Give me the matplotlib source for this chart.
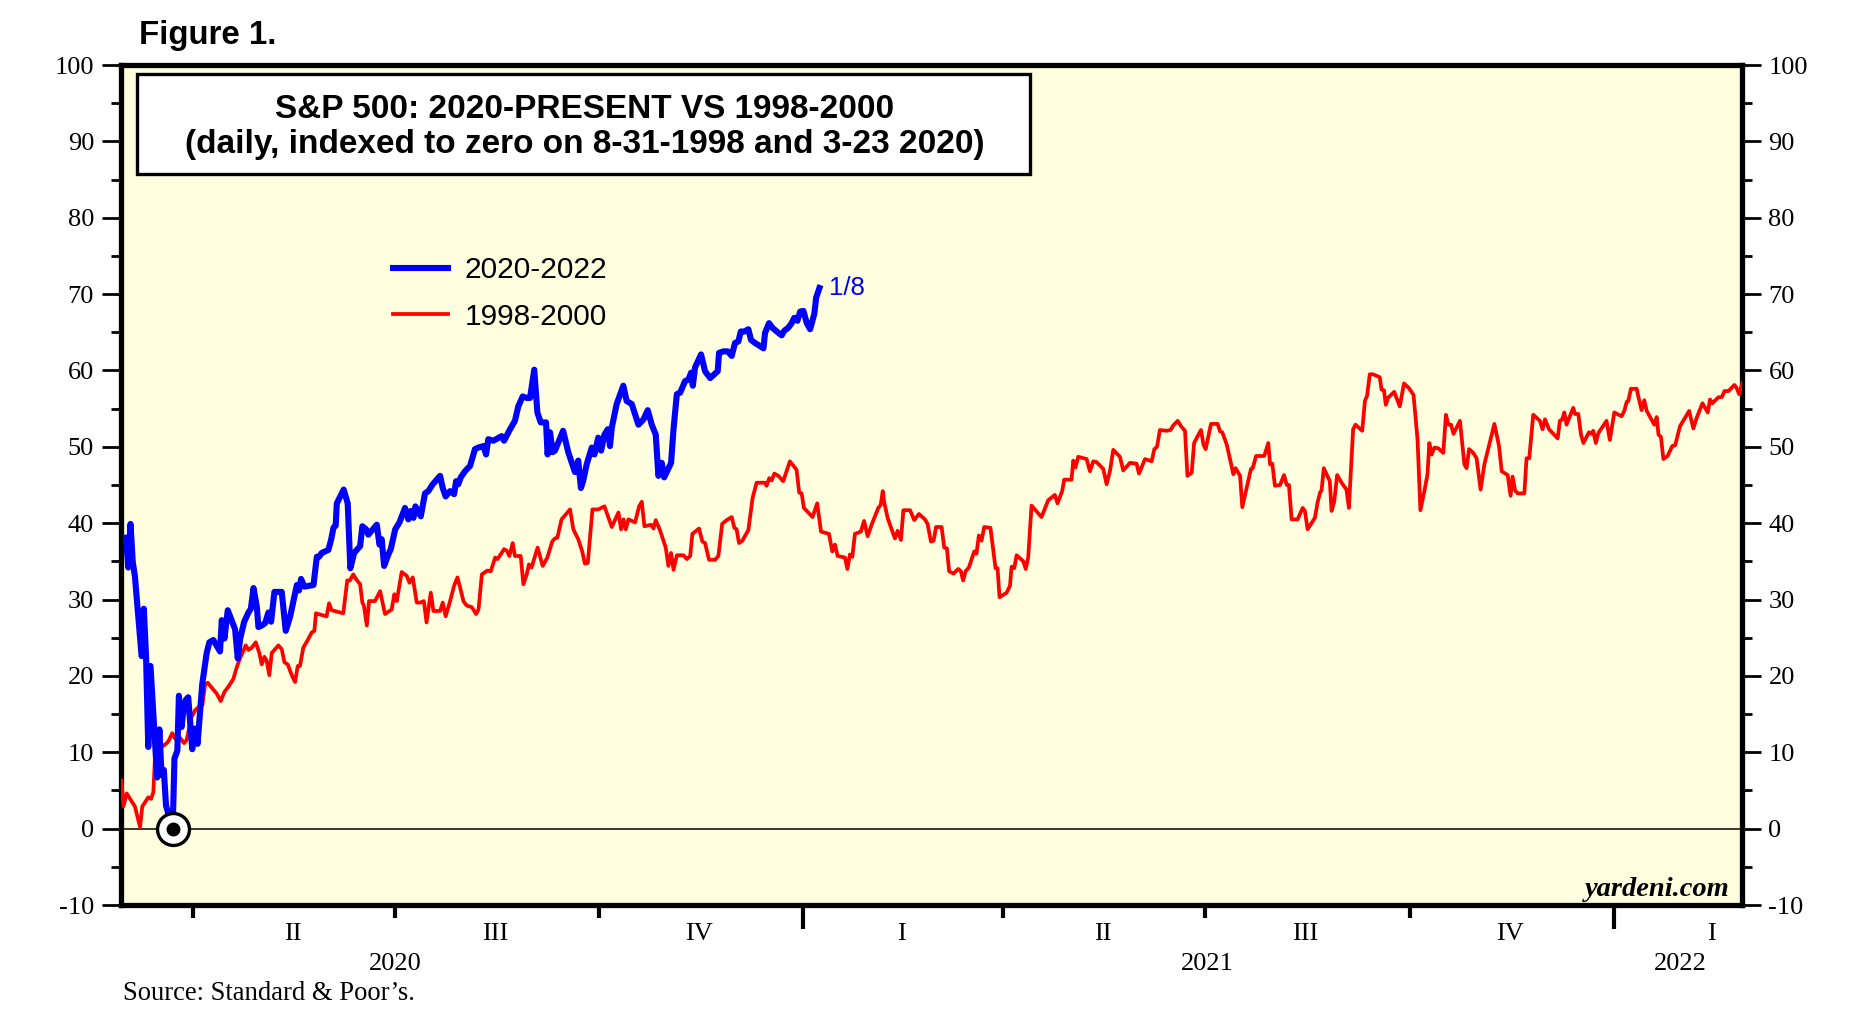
import datetime as dt
import numpy as np
import matplotlib
matplotlib.use("Agg")
import matplotlib.pyplot as plt
import matplotlib.dates as mdates
import matplotlib.transforms as mtransforms
from matplotlib.ticker import MultipleLocator, FixedLocator, NullFormatter
from matplotlib.patches import Rectangle

plt.rcParams["axes.unicode_minus"] = False

# ---------------- data (days after 2020-03-01, index value) ----------------
blue_day = [1, 2, 3, 4, 5, 8, 9, 10, 11, 12,
            15, 16, 17, 18, 19, 22, 22.8, 24.1, 24.8, 26.0,
            27.1, 28.0, 29.0, 30.8, 32.0, 33.2, 35.3, 37.3, 38.5, 40.3,
            43.3, 44.1, 45.3, 46.8, 50.1, 51.3, 52.4, 54.2, 56.1, 57.2,
            58.4, 59.9, 60.6, 62.1, 63.6, 65.1, 66.3, 67.8, 71.1, 72.9,
            74.9, 77.9, 78.9, 79.8, 81.3, 85.4, 86.9, 87.9, 89.1, 92.1,
            93.3, 94.4, 95.4, 95.9, 99.0, 100.8, 102.0, 103.7, 106.4, 107.4,
            109.1, 110.1, 113.9, 115.1, 116.1, 117.2, 119.1, 120.2, 122.2, 124.1,
            126.6, 128.1, 129.2, 130.4, 131.3, 133.7, 135.6, 137.1, 139.1, 142.4,
            143.6, 144.9, 146.9, 148.7, 149.6, 150.6, 151.7, 153.6, 155.9, 158.1,
            159.6, 161.9, 163.1, 164.1, 166.4, 170.1, 171.2, 173.9, 176.1, 177.6,
            179.6, 181.4, 182.9, 184.8, 186.2, 187.7, 190.1, 190.8, 191.9, 193.1,
            194.1, 197.8, 200.1, 201.6, 203.1, 204.6, 205.8, 206.8, 208.4, 210.7,
            211.9, 213.6, 214.9, 216.4, 217.9, 218.9, 219.7, 221.9, 224.9, 226.4,
            228.7, 231.7, 234.0, 235.9, 237.7, 239.5, 240.7, 242.2, 243.3, 246.4,
            247.5, 249.0, 250.5, 252.7, 254.2, 255.4, 256.2, 257.2, 259.9, 261.7,
            264.0, 267.4, 268.0, 270.0, 271.9, 273.7, 275.2, 276.7, 277.8, 279.4,
            281.2, 282.4, 284.2, 288.0, 288.7, 290.5, 292.0, 294.0, 296.2, 297.4,
            299.2, 300.7, 301.9, 303.3, 304.5, 306.0, 307.5, 309.0, 310.9, 311.7,
            313.2]
blue_val = [38.1, 34.2, 39.9, 35.0, 33.0, 22.6, 28.8, 22.6, 10.7, 21.3,
            6.7, 13.0, 7.0, 7.7, 3.0, 0.0, 9.2, 10.2, 17.4, 13.3,
            16.2, 16.9, 17.2, 10.4, 13.1, 11.1, 18.9, 23.0, 24.4, 24.7,
            23.2, 27.3, 24.9, 28.6, 26.1, 22.3, 24.9, 27.1, 28.3, 28.8,
            31.5, 29.0, 26.4, 26.6, 26.9, 28.3, 27.1, 31.0, 31.0, 25.9,
            27.8, 31.9, 31.2, 32.7, 31.7, 31.9, 35.6, 35.6, 36.1, 36.5,
            37.8, 39.4, 39.7, 42.6, 44.4, 42.6, 34.1, 36.1, 37.0, 39.6,
            39.2, 38.5, 39.8, 37.2, 37.9, 34.4, 35.9, 36.6, 39.2, 40.1,
            42.0, 40.5, 41.6, 40.7, 42.2, 40.9, 43.9, 44.2, 45.1, 46.2,
            44.6, 43.5, 44.2, 43.8, 45.5, 45.1, 46.0, 46.8, 47.5, 49.7,
            49.9, 50.1, 49.0, 51.0, 50.8, 51.4, 50.8, 52.3, 53.4, 55.3,
            56.6, 56.4, 56.4, 60.1, 54.5, 53.2, 53.2, 49.0, 51.9, 49.3,
            49.5, 52.1, 49.3, 48.0, 46.7, 48.2, 44.6, 45.5, 47.7, 49.9,
            49.0, 51.2, 49.5, 51.6, 52.3, 50.1, 52.5, 55.6, 58.0, 56.0,
            55.6, 52.9, 53.6, 54.8, 52.9, 51.6, 46.2, 47.9, 46.0, 47.9,
            52.3, 56.9, 57.1, 58.6, 58.8, 59.7, 58.0, 60.4, 62.1, 59.9,
            59.0, 59.9, 62.3, 62.5, 62.5, 61.9, 63.6, 63.8, 65.1, 65.1,
            65.4, 64.0, 63.6, 62.9, 64.9, 66.2, 65.6, 65.1, 64.6, 65.2,
            65.6, 66.2, 66.9, 66.5, 67.7, 67.8, 66.2, 65.4, 67.4, 69.5,
            70.8]

red_day = [-1.0, -0.2, 1.3, 5.0, 7.3, 8.3, 11.0, 12.3, 13.3, 14.0,
           15.5, 18.5, 20.0, 21.8, 23.0, 25.3, 27.1, 28.3, 30.3, 32.1,
           34.3, 35.4, 36.6, 37.8, 40.3, 41.8, 43.6, 45.3, 47.1, 49.3,
           50.8, 52.3, 54.9, 56.1, 57.6, 59.4, 61.0, 62.1, 63.3, 64.3,
           65.5, 66.6, 68.1, 69.6, 71.1, 72.3, 73.8, 75.6, 77.1, 78.3,
           79.3, 80.8, 82.8, 84.6, 85.8, 86.5, 87.6, 91.3, 92.4, 93.6,
           98.8, 100.6, 101.8, 103.3, 104.5, 106.4, 107.4, 108.1, 109.4, 110.4,
           113.1, 115.4, 117.6, 120.6, 121.8, 122.9, 125.1, 127.4, 128.6, 130.1,
           131.9, 133.4, 135.1, 136.3, 138.2, 139.4, 142.4, 143.6, 144.9, 146.9,
           148.7, 150.2, 151.4, 152.9, 154.4, 156.7, 158.6, 159.7, 161.2, 163.7,
           165.2, 167.2, 168.3, 171.2, 172.4, 173.6, 175.1, 176.1, 178.7, 179.9,
           181.4, 182.4, 183.6, 186.3, 188.6, 190.7, 192.9, 194.1, 195.2, 197.1,
           200.9, 202.4, 204.6, 206.4, 207.6, 208.9, 211.0, 213.6, 216.4, 219.7,
           222.7, 223.9, 225.0, 226.0, 227.2, 230.2, 232.0, 233.2, 234.4, 237.4,
           238.5, 239.5, 241.5, 244.0, 245.2, 246.4, 247.5, 249.0, 252.0, 253.5,
           255.0, 256.0, 259.0, 260.5, 261.7, 263.5, 266.2, 267.7, 269.4, 271.4,
           273.7, 274.9, 275.9, 277.0, 278.5, 281.2, 283.1, 284.9, 288.7, 289.4,
           290.6, 291.7, 292.9, 294.7, 296.9, 299.9, 302.9, 304.1, 305.2, 306.2,
           310.1, 312.2, 313.9, 317.5, 319.0, 320.2, 321.4, 324.7, 325.8, 326.9,
           328.0, 329.2, 331.9, 333.3, 334.9, 336.7, 339.7, 340.8, 341.7, 342.4,
           343.9, 345.7, 347.2, 348.4, 349.9, 351.0, 354.0, 355.9, 358.0, 360.7,
           361.9, 363.4, 364.6, 365.7, 368.2, 369.4, 370.6, 371.6, 373.5, 375.7,
           376.9, 377.9, 379.0, 380.5, 382.9, 383.9, 385.0, 386.2, 387.4, 390.2,
           392.5, 393.4, 394.3, 397.5, 399.0, 399.7, 400.9, 402.0, 405.0, 406.1,
           407.2, 408.7, 413.2, 416.2, 419.2, 420.4, 422.5, 423.4, 426.7, 427.5,
           428.5, 429.7, 433.5, 435.0, 436.5, 438.0, 441.0, 442.5, 444.0, 445.5,
           448.5, 450.0, 453.0, 456.0, 457.1, 459.8, 462.8, 464.0, 465.2, 466.5,
           469.5, 471.3, 472.5, 474.5, 476.0, 477.8, 478.9, 480.8, 481.9, 483.5,
           485.0, 486.1, 487.1, 489.5, 492.5, 493.6, 494.6, 496.6, 499.6, 500.6,
           502.6, 503.6, 507.5, 508.3, 509.8, 513.5, 515.3, 516.1, 517.1, 518.3,
           520.6, 522.4, 523.6, 524.6, 525.8, 528.5, 530.8, 531.8, 533.0, 536.3,
           537.5, 538.6, 539.3, 540.3, 543.0, 543.8, 545.0, 546.3, 548.3, 550.5,
           551.6, 553.5, 554.6, 557.6, 558.8, 559.8, 561.0, 562.5, 565.5, 566.3,
           567.4, 568.2, 569.2, 572.0, 574.5, 576.4, 578.6, 580.7, 582.5, 583.8,
           585.5, 587.0, 587.8, 588.9, 590.1, 591.9, 594.1, 595.3, 596.4, 597.6,
           598.7, 601.6, 603.6, 604.6, 605.7, 607.6, 609.1, 610.9, 612.6, 617.1,
           619.2, 620.4, 623.1, 624.4, 625.3, 626.4, 627.6, 630.6, 631.6, 632.8,
           634.6, 637.6, 638.8, 639.9, 641.7, 645.6, 646.6, 647.7, 648.6, 649.6,
           652.6, 653.4, 654.9, 656.1, 657.2, 659.7, 660.9, 661.6, 662.8, 663.9,
           667.6, 669.1, 671.1, 674.4, 675.6, 676.7, 677.4, 678.6, 681.2, 681.9,
           683.4, 684.6, 685.7, 689.1, 690.2, 691.0, 692.1, 693.2, 695.1, 697.2,
           698.5, 700.7, 704.8, 706.7, 708.2, 710.8, 712.0, 713.2, 714.2, 715.3,
           718.0, 719.5, 720.7, 722.5, 725.2, 726.2, 727.3, 728.8]
red_val = [6.3, 2.9, 4.6, 2.9, 0.2, 2.9, 4.1, 3.9, 4.8, 9.2,
           10.4, 11.0, 11.4, 12.5, 11.8, 11.9, 11.2, 11.6, 14.5, 15.5,
           16.1, 16.2, 18.9, 19.1, 18.2, 17.7, 16.7, 17.9, 18.6, 19.6,
           21.1, 22.3, 24.0, 23.4, 23.7, 24.4, 23.0, 21.5, 22.5, 22.0,
           20.1, 23.0, 23.5, 24.0, 23.5, 21.8, 21.5, 20.1, 19.2, 21.3,
           21.3, 23.7, 24.7, 25.7, 25.9, 28.2, 28.1, 27.8, 29.5, 28.6,
           28.2, 32.5, 32.5, 33.3, 32.7, 32.0, 29.6, 29.2, 26.6, 29.8,
           29.8, 31.1, 28.1, 28.7, 30.7, 29.8, 33.6, 33.1, 32.2, 32.9,
           29.6, 29.6, 29.8, 27.0, 30.9, 28.5, 28.5, 29.6, 27.8, 29.8,
           31.8, 32.9, 31.6, 29.8, 29.2, 29.0, 28.1, 28.7, 33.3, 33.8,
           33.7, 35.5, 35.3, 36.6, 36.4, 35.7, 37.4, 35.7, 35.7, 32.0,
           33.3, 34.6, 34.2, 36.8, 34.4, 35.5, 37.6, 38.0, 38.1, 40.5,
           41.8, 39.2, 37.9, 36.3, 34.7, 34.8, 41.8, 41.8, 42.2, 39.5,
           41.4, 39.2, 40.5, 39.2, 40.5, 40.1, 42.2, 42.8, 39.6, 39.8,
           39.3, 40.4, 39.0, 36.8, 34.4, 36.1, 33.9, 35.8, 35.8, 35.3,
           35.7, 38.6, 39.3, 37.6, 37.4, 35.2, 35.2, 35.7, 39.9, 40.4,
           40.8, 39.4, 39.2, 37.4, 37.7, 39.1, 43.3, 45.3, 45.3, 44.9,
           45.9, 45.6, 46.5, 46.2, 45.5, 48.1, 47.0, 44.0, 43.9, 42.0,
           40.8, 42.6, 38.9, 38.6, 36.3, 37.2, 35.7, 35.5, 34.0, 35.9,
           35.6, 38.6, 38.9, 40.3, 38.3, 39.8, 42.0, 42.4, 44.2, 42.7,
           40.7, 39.2, 38.0, 39.0, 37.8, 41.7, 41.7, 40.4, 41.2, 40.5,
           39.9, 37.6, 37.7, 39.5, 39.5, 36.8, 36.7, 33.7, 33.4, 34.0,
           33.7, 32.5, 33.7, 34.2, 36.3, 36.0, 38.4, 37.7, 39.5, 39.4,
           34.1, 34.1, 30.3, 30.9, 31.8, 34.3, 34.1, 35.8, 35.0, 34.0,
           35.5, 42.3, 40.8, 43.0, 43.7, 42.6, 44.2, 45.7, 45.7, 48.2,
           47.3, 48.7, 48.4, 46.8, 48.1, 48.0, 47.1, 45.1, 46.8, 49.6,
           48.7, 46.9, 47.9, 47.8, 46.5, 48.4, 48.1, 49.7, 50.0, 52.2,
           52.1, 52.2, 52.8, 53.4, 52.7, 52.1, 46.2, 46.6, 50.5, 51.4,
           52.2, 50.3, 49.7, 53.0, 53.0, 52.0, 51.9, 50.3, 46.4, 47.2,
           46.2, 42.1, 47.1, 47.2, 48.8, 48.8, 50.5, 47.7, 47.8, 44.9,
           45.0, 46.3, 45.0, 45.0, 40.5, 40.5, 42.0, 41.6, 39.2, 40.7,
           42.7, 44.0, 44.3, 47.2, 45.5, 41.6, 42.8, 46.3, 45.3, 44.4,
           42.0, 52.3, 52.9, 52.1, 56.0, 56.7, 59.5, 59.5, 59.1, 57.5,
           57.4, 55.5, 56.4, 57.2, 55.3, 58.3, 57.7, 56.8, 51.0, 41.7,
           44.1, 46.4, 50.5, 49.0, 49.9, 49.8, 49.2, 54.2, 52.9, 52.9,
           51.7, 53.4, 47.7, 47.2, 49.7, 49.2, 48.5, 44.4, 47.7, 53.0,
           50.1, 46.8, 46.3, 43.6, 46.1, 44.3, 43.9, 43.9, 48.5, 48.5,
           54.2, 53.4, 52.3, 53.6, 52.3, 51.1, 53.4, 53.6, 54.5, 52.9,
           55.1, 54.3, 54.3, 51.6, 50.5, 51.9, 51.7, 52.1, 50.5, 51.8,
           53.4, 50.9, 54.5, 54.0, 54.7, 55.9, 56.0, 57.6, 57.6, 56.6,
           54.8, 56.1, 54.7, 52.9, 53.9, 51.6, 51.3, 48.4, 48.8, 50.1,
           50.2, 52.7, 54.7, 52.4, 53.8, 55.7, 55.1, 54.5, 56.2, 55.7,
           56.5, 56.5, 57.3, 57.3, 58.1, 57.7, 56.9, 58.4]

quarter_ticks = ["2020-04-01", "2020-07-01", "2020-10-01",
                 "2021-04-01", "2021-07-01", "2021-10-01"]
year_ticks = ["2021-01-01", "2022-01-01"]
quarter_labels = ["II", "III", "IV", "I", "II", "III", "IV", "I"]
quarter_label_dates = ["2020-05-16", "2020-08-15", "2020-11-15", "2021-02-14",
                       "2021-05-16", "2021-08-15", "2021-11-15", "2022-02-14"]
year_labels = ["2020", "2021", "2022"]
year_label_dates = ["2020-07-01", "2021-07-02", "2022-01-31"]
zero_date = "2020-03-23"

# ---------------- figure ----------------
W, H = 1857, 1026
fig = plt.figure(figsize=(W / 100, H / 100), dpi=100)


def fx(px):
    return px / W


def fy(py):
    return 1 - py / H


SERIF = "Liberation Serif"
SANS = "Liberation Sans"

ax = fig.add_axes([fx(120.5), fy(905), fx(1742) - fx(120.5), fy(65) - fy(905)])
ax.set_facecolor("#FFFFE0")

base = mdates.date2num(dt.datetime(2020, 3, 1))


def dnum(s):
    return mdates.date2num(dt.datetime.strptime(s, "%Y-%m-%d"))


bx = base + np.array(blue_day)
rx = base + np.array(red_day)

ax.axhline(0, color="black", lw=1.1, zorder=1)
ax.plot(rx, red_val, color="#FF0000", lw=2.7, zorder=3, label="1998-2000",
        solid_joinstyle="round")
ax.plot(bx, blue_val, color="#0000FF", lw=4.4, zorder=4, label="2020-2022",
        solid_joinstyle="round")

# marker at trough
ax.plot([dnum(zero_date)], [0], marker="o", ms=23, mfc="white", mec="black",
        mew=2.4, zorder=6, clip_on=False)
ax.plot([dnum(zero_date)], [0], marker="o", ms=9, mfc="black", mec="black",
        zorder=7, clip_on=False)

# last-value label
ax.annotate("1/8", xy=(bx[-1], blue_val[-1]), xytext=(7, 0),
            textcoords="offset points", color="#0000FF", fontsize=18.5,
            family=SANS, ha="left", va="center")

ax.set_xlim(base - 1.5, base + 728.6)
ax.set_ylim(-10, 100)

for s in ax.spines.values():
    s.set_linewidth(3.8)
    s.set_color("black")

ax.yaxis.set_major_locator(MultipleLocator(10))
ax.yaxis.set_minor_locator(MultipleLocator(5))
ax.tick_params(axis="y", which="major", direction="out", length=14, width=2,
               left=True, right=True, labelleft=True, labelright=True,
               labelsize=19, pad=5)
ax.tick_params(axis="y", which="minor", direction="out", length=7, width=2,
               left=True, right=True)
for lab in ax.get_yticklabels():
    lab.set_family(SERIF)

ax.xaxis.set_major_locator(FixedLocator([dnum(d) for d in year_ticks]))
ax.xaxis.set_minor_locator(FixedLocator([dnum(d) for d in quarter_ticks]))
ax.xaxis.set_major_formatter(NullFormatter())
ax.xaxis.set_minor_formatter(NullFormatter())
ax.tick_params(axis="x", which="major", direction="out", length=17, width=3)
ax.tick_params(axis="x", which="minor", direction="out", length=9, width=3)

trans = mtransforms.blended_transform_factory(ax.transData, fig.transFigure)
for lab, d in zip(quarter_labels, quarter_label_dates):
    ax.text(dnum(d), fy(934), lab, transform=trans, ha="center", va="center",
            fontsize=19, family=SERIF, clip_on=False)
for lab, d in zip(year_labels, year_label_dates):
    ax.text(dnum(d), fy(964), lab, transform=trans, ha="center", va="center",
            fontsize=19, family=SERIF, clip_on=False)

# legend
leg = ax.legend(handles=ax.get_lines()[2:0:-1], loc="upper left",
                bbox_to_anchor=(fx(393), fy(256)), bbox_transform=fig.transFigure,
                frameon=False, borderpad=0, borderaxespad=0, handlelength=1.85,
                handletextpad=0.55, labelspacing=0.62,
                prop={"family": SANS, "size": 21.5})

# title box
fig.add_artist(Rectangle((fx(137), fy(174)), fx(1030) - fx(137), fy(74) - fy(174),
                         transform=fig.transFigure, facecolor="white",
                         edgecolor="black", lw=2.4, zorder=5))
fig.text(fx(585), fy(109.5), "S&P 500: 2020-PRESENT VS 1998-2000", ha="center",
         va="center", fontsize=24, fontweight="bold", family=SANS, zorder=6)
fig.text(fx(585), fy(144.5), "(daily, indexed to zero on 8-31-1998 and 3-23 2020)",
         ha="center", va="center", fontsize=24, fontweight="bold", family=SANS,
         zorder=6)

fig.text(fx(139), fy(35.5), "Figure 1.", ha="left", va="center", fontsize=23.8,
         fontweight="bold", family=SANS)
fig.text(fx(1730), fy(890), "yardeni.com", ha="right", va="center", fontsize=20.5,
         fontstyle="italic", fontweight="bold", family=SERIF, zorder=6)
fig.text(fx(123), fy(994), "Source: Standard & Poor\u2019s.", ha="left",
         va="center", fontsize=19.2, family=SERIF)

fig.savefig("out.png", dpi=100)
